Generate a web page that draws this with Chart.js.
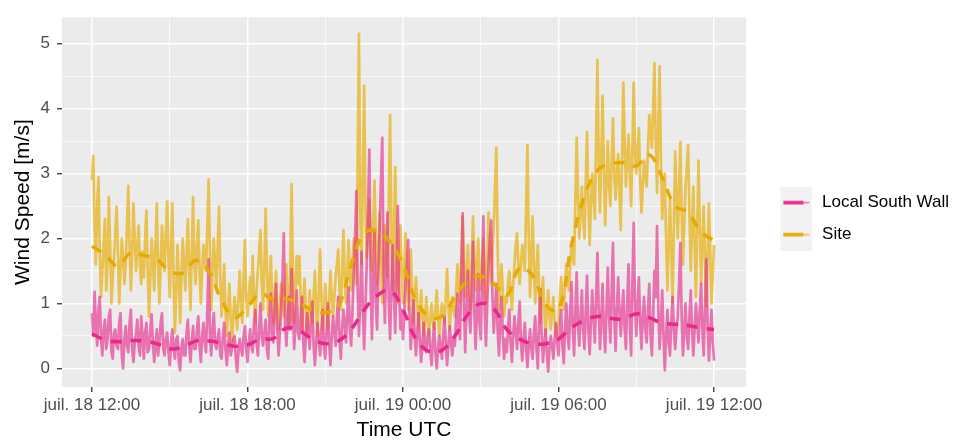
<!DOCTYPE html>
<html>
<head>
<meta charset="utf-8">
<script src="https://cdn.jsdelivr.net/npm/chart.js@4/dist/chart.umd.min.js"></script>
<style>
html,body{margin:0;padding:0;background:#ffffff;}
#wrap{width:965px;height:441px;}
</style>
</head>
<body>
<div id="wrap"><canvas id="c" width="965" height="441"></canvas></div>
<script>
// ---- time axis (hours after juil. 18 12:00 UTC) ----
const STEP_HOURS = 0.05;         // raw series: one reading every 3 minutes
const SMOOTH_STEP_HOURS = 0.5;   // smoothed series: one value every 30 minutes

const seriesNames = ['Local South Wall', 'Site'];

// raw wind speed, Local South Wall [m/s] (one line per hour)
const localSouthWall = [
  0.85,0.5,1.18,0.7,0.35,0.9,1.1,0.45,0.2,0.6, 0.75,0.3,0.45,0.8,0.9,0.25,0.15,0.55,0.6,0.35,
  0.3,0.7,0.85,0.2,0.0,0.45,0.65,0.35,0.25,0.7, 0.9,0.3,0.1,0.4,0.55,0.75,0.35,0.2,0.8,0.5,
  0.15,0.55,0.7,0.25,0.3,0.6,0.83,0.4,0.1,0.35, 0.6,0.2,0.4,0.7,0.85,0.3,0.2,0.45,0.55,0.25,
  0.05,0.4,0.6,0.3,0.15,0.45,0.5,0.1,-0.03,0.3, 0.45,0.2,0.2,0.55,0.75,0.35,0.1,0.4,0.65,0.3,
  0.3,0.6,0.8,0.35,0.1,0.5,0.7,0.4,0.25,0.9, 1.68,0.5,0.2,0.6,0.85,0.4,0.3,0.45,0.6,0.2,
  0.15,0.5,0.7,0.3,0.05,0.35,0.55,0.2,0.3,0.45, 0.5,0.15,-0.05,0.25,0.45,0.3,0.2,0.5,0.65,0.3,
  0.1,0.4,0.6,0.35,0.25,0.7,0.9,0.4,0.2,0.6, 1.0,0.5,0.35,0.55,0.75,0.3,0.15,0.8,1.15,0.5,
  0.4,0.9,1.3,0.6,0.2,0.55,0.95,1.4,2.08,0.7, 0.35,0.8,1.1,0.6,1.53,0.9,0.3,0.7,1.2,0.55,
  0.45,0.8,1.1,0.4,0.1,0.5,0.85,0.6,0.3,0.75, 1.03,0.35,0.05,0.4,0.7,0.45,0.2,0.6,0.9,0.3,
  0.15,0.6,1.0,0.4,0.05,0.5,0.8,0.55,0.35,0.8, 1.1,0.45,0.15,0.6,0.9,0.7,0.4,0.85,1.25,0.6,
  0.35,0.9,1.45,2.0,2.73,1.2,0.5,1.1,1.8,0.9, 0.3,0.95,1.6,2.4,3.37,1.3,0.45,1.4,2.1,1.0,
  0.6,1.5,2.2,2.9,3.55,1.5,0.7,1.6,2.4,1.0, 0.45,1.2,1.9,1.1,0.55,1.6,2.5,1.2,0.6,0.9,
  0.45,0.9,1.3,1.6,1.98,0.8,0.3,0.7,1.05,0.5, 0.2,0.55,0.85,0.4,0.1,0.4,0.7,0.35,0.25,0.5,
  0.6,0.3,0.05,0.4,0.7,0.25,0.0,0.3,0.5,0.35, 0.15,0.5,0.8,0.4,0.05,0.35,0.65,0.4,0.2,0.45,
  0.35,0.8,1.15,0.6,0.45,1.4,2.39,1.0,0.25,0.9, 1.5,0.8,0.55,1.2,1.95,0.9,0.3,0.85,1.45,0.7,
  0.45,1.4,2.34,0.9,0.35,1.0,1.6,2.0,2.28,1.1, 0.55,0.9,1.3,0.6,0.2,0.7,1.1,0.5,0.15,0.45,
  0.25,0.6,0.9,0.4,0.1,0.5,0.8,0.55,0.3,0.7, 1.03,0.4,0.12,0.45,0.7,0.3,0.02,0.35,0.6,0.3,
  0.15,0.55,0.8,0.3,0.0,0.7,1.22,0.5,0.1,0.4, 0.6,0.25,-0.05,0.3,0.5,0.35,0.15,0.45,0.7,0.4,
  0.2,0.6,0.9,0.35,0.08,0.6,1.0,0.55,0.3,0.9, 1.33,0.6,0.2,0.9,1.48,0.7,0.35,0.8,1.2,0.6,
  0.3,0.9,1.43,0.6,0.22,0.7,1.2,0.8,0.4,1.1, 1.78,0.9,0.3,0.8,1.3,0.6,0.25,0.9,1.55,0.8,
  0.4,1.2,1.93,0.8,0.27,0.9,1.4,0.9,0.5,0.9, 1.2,0.6,0.3,1.0,1.6,0.7,0.2,1.3,2.24,1.0,
  0.5,1.0,1.4,0.7,0.3,0.8,1.1,0.6,0.4,0.9, 1.3,0.5,0.2,0.8,1.5,1.1,2.19,0.9,0.3,0.7,
  1.2,0.5,-0.03,0.5,0.9,0.4,0.2,0.7,1.1,0.6, 0.3,0.6,0.8,1.3,1.93,0.8,0.2,0.6,1.0,0.5,
  0.3,0.8,1.2,0.6,0.2,0.6,1.0,0.7,0.4,0.9, 1.3,0.6,0.2,0.9,1.68,0.7,0.12,0.5,0.9,0.4,
  0.12
];

// raw wind speed, Site [m/s] (one line per hour)
const site = [
  2.9,3.27,2.2,1.6,2.5,2.94,1.8,1.1,1.5,1.9, 2.3,1.2,1.6,2.64,1.9,1.0,1.4,1.7,2.1,2.49,
  1.8,1.0,1.5,2.0,1.7,1.3,1.6,2.2,2.81,1.9, 1.2,1.8,2.54,2.0,1.5,1.9,2.2,1.6,1.3,1.8,
  1.4,2.0,2.43,1.5,0.8,1.4,2.0,1.7,1.2,1.9, 2.54,1.6,1.0,1.6,2.2,1.8,1.5,2.1,2.57,1.7,
  1.1,1.9,2.54,1.3,0.55,1.2,1.9,1.4,0.7,1.4, 2.0,1.6,1.2,1.8,2.3,1.5,0.9,1.8,2.64,1.6,
  1.3,1.9,2.28,1.5,1.0,1.5,1.9,1.7,1.5,2.2, 2.91,1.8,0.9,1.5,2.0,1.6,1.2,1.9,2.49,1.4,
  0.8,1.2,1.6,0.9,0.5,0.9,1.3,0.8,0.4,0.8, 1.1,0.9,0.6,1.1,1.5,1.0,0.7,1.4,1.98,1.1,
  0.8,1.1,1.4,1.0,1.73,1.1,0.7,1.2,1.5,1.8, 2.13,1.3,0.9,1.6,2.46,1.5,0.8,1.3,1.73,1.1,
  0.7,1.1,1.5,0.9,0.6,1.0,1.3,1.0,0.8,1.2, 1.6,1.0,0.6,1.6,2.84,1.5,0.7,1.2,1.73,1.3,
  1.73,1.1,0.6,1.0,1.38,0.9,0.5,0.8,1.2,0.9, 0.7,1.1,1.5,0.9,0.5,1.2,1.83,1.1,0.6,0.9,
  1.3,0.9,0.6,1.0,1.5,1.1,0.8,1.1,1.4,1.6, 1.83,1.2,0.9,1.5,2.13,1.4,1.0,1.5,1.98,1.4,
  1.2,1.6,2.0,1.6,1.3,3.2,5.15,2.4,1.6,2.9, 4.35,2.5,1.7,2.2,2.6,2.0,1.5,2.2,2.89,2.0,
  1.3,1.9,2.4,1.6,1.0,1.7,2.2,1.8,1.4,2.6, 3.9,2.2,1.2,2.1,3.1,1.9,1.0,1.6,2.2,1.5,
  1.0,1.6,2.08,1.4,0.9,1.4,1.83,1.2,0.7,1.1, 1.4,1.0,0.6,0.9,1.2,0.8,0.5,0.8,1.1,0.7,
  0.5,0.8,1.0,0.7,0.6,0.9,1.2,0.8,0.5,0.8, 1.0,0.9,0.7,1.1,1.53,1.0,0.6,0.9,1.1,0.9,
  0.8,1.2,1.6,1.3,1.0,1.7,2.34,1.6,1.1,1.5, 1.9,1.4,0.9,1.6,2.34,1.7,1.2,1.6,2.0,1.5,
  1.2,1.6,2.0,1.4,1.0,1.7,2.4,1.8,1.3,1.8, 2.2,2.8,3.4,1.9,0.9,1.3,1.6,1.2,0.8,1.1,
  1.0,1.3,1.5,1.2,0.9,1.3,1.6,1.9,2.08,1.6, 1.3,1.6,1.9,1.7,1.5,2.5,3.44,2.0,1.1,1.7,
  2.34,1.6,1.0,1.5,1.9,1.2,0.7,1.1,1.4,0.9, 0.5,0.9,1.2,0.8,0.6,0.9,1.1,0.7,0.5,0.6,
  0.7,1.1,1.4,1.1,0.9,1.3,1.6,1.4,1.2,1.6, 1.93,1.7,1.6,2.6,3.55,2.7,2.0,2.4,2.8,2.3,
  2.0,2.9,3.64,2.6,1.9,2.5,3.0,2.7,2.3,3.5, 4.75,3.2,2.4,3.3,4.2,3.0,2.2,2.9,3.5,2.8,
  2.5,3.2,3.85,3.0,2.6,3.0,3.3,2.7,2.13,3.2, 4.4,3.5,2.8,3.2,3.6,3.0,2.5,3.4,4.4,3.3,
  3.0,3.4,3.7,2.9,2.4,2.8,3.2,3.0,2.8,3.4, 3.9,3.6,3.4,4.0,4.7,3.5,2.7,3.7,4.65,3.2,
  2.3,2.7,3.0,2.0,1.2,1.9,2.6,1.8,1.0,2.2, 3.34,2.6,2.0,2.8,3.49,2.4,1.6,2.2,2.8,3.1,
  3.44,2.4,1.5,2.2,2.8,1.9,1.1,2.1,3.2,2.2, 1.3,1.9,2.5,1.7,0.95,1.7,2.54,1.8,1.0,1.4,
  1.9
];

// smoothed (dashed) series, every 30 minutes
const localSouthWallSmooth = [
  0.53,0.44,0.41,0.43,0.42,0.38,0.30,0.33,0.42,0.42,
  0.39,0.34,0.36,0.45,0.46,0.62,0.58,0.45,0.38,0.42,
  0.60,0.90,1.12,1.20,0.90,0.45,0.26,0.28,0.50,0.83,
  1.00,0.92,0.60,0.45,0.38,0.38,0.45,0.63,0.74,0.80,
  0.77,0.76,0.84,0.78,0.70,0.68,0.66,0.62,0.60
];
const siteSmooth = [
  1.88,1.75,1.58,1.78,1.74,1.68,1.50,1.47,1.66,1.50,
  1.05,0.78,0.95,1.15,1.06,1.07,1.00,0.90,0.86,0.95,
  1.60,2.08,2.12,1.95,1.60,1.05,0.80,0.80,1.10,1.35,
  1.42,1.30,1.12,1.55,1.43,0.98,0.90,1.90,2.65,3.05,
  3.15,3.17,3.12,3.29,2.94,2.50,2.40,2.10,1.97
];

// ---- axes ----
const xTickHours = [0,3,6,9,12,15,18,21,24];
const xTickLabels = {0:'juil. 18 12:00', 6:'juil. 18 18:00', 12:'juil. 19 00:00', 18:'juil. 19 06:00', 24:'juil. 19 12:00'};
const yTickValues = [0,0.5,1,1.5,2,2.5,3,3.5,4,4.5,5];
const yMajorTicks = [0,1,2,3,4,5];
const xTitle = 'Time UTC';
const yTitle = 'Wind Speed [m/s]';

// ---- styles ----
const PINK = '#E7298A', GOLD = '#E6AB02';
const PINK_A = 'rgba(231,41,138,0.62)', GOLD_A = 'rgba(230,171,2,0.66)';
const FONT = "'Liberation Sans', Arial, sans-serif";

const toPoints = (arr, step) => arr.map((v, i) => ({x: i * step, y: v}));

function makeKey(rawColor, solidColor) {
  const c = document.createElement('canvas');
  c.width = 50; c.height = 32;
  const g = c.getContext('2d');
  g.fillStyle = '#F2F2F2';
  g.fillRect(18, 0, 32, 32);
  g.strokeStyle = rawColor; g.lineWidth = 1.6;
  g.beginPath(); g.moveTo(21, 16); g.lineTo(47, 16); g.stroke();
  g.strokeStyle = solidColor; g.lineWidth = 3.5;
  g.beginPath(); g.moveTo(21, 16); g.lineTo(41, 16); g.stroke();
  return c;
}
const keys = [makeKey(PINK_A, PINK), makeKey(GOLD_A, GOLD)];

const panelBg = {
  id: 'panelBg',
  beforeDraw(chart) {
    const {ctx, chartArea: a} = chart;
    ctx.save();
    ctx.fillStyle = '#EBEBEB';
    ctx.fillRect(a.left, a.top, a.right - a.left, a.bottom - a.top);
    ctx.restore();
  }
};

new Chart(document.getElementById('c'), {
  type: 'line',
  data: {
    datasets: [
      {label: seriesNames[0], data: toPoints(localSouthWall, STEP_HOURS), borderColor: PINK_A, borderWidth: 2.7, pointRadius: 0, tension: 0, borderJoinStyle: 'round', order: 2},
      {label: seriesNames[1], data: toPoints(site, STEP_HOURS), borderColor: GOLD_A, borderWidth: 2.7, pointRadius: 0, tension: 0, borderJoinStyle: 'round', order: 3},
      {label: seriesNames[0] + ' (smoothed)', data: toPoints(localSouthWallSmooth, SMOOTH_STEP_HOURS), borderColor: PINK, borderWidth: 3.5, borderDash: [11, 9], pointRadius: 0, tension: 0.4, order: 0},
      {label: seriesNames[1] + ' (smoothed)', data: toPoints(siteSmooth, SMOOTH_STEP_HOURS), borderColor: GOLD, borderWidth: 3.5, borderDash: [11, 9], pointRadius: 0, tension: 0.4, order: 1}
    ]
  },
  options: {
    responsive: false,
    animation: false,
    devicePixelRatio: 1,
    layout: {padding: {top: 10, right: 6, bottom: 0, left: 0}},
    plugins: {
      tooltip: {enabled: false},
      legend: {
        position: 'right',
        fullSize: false,
        title: {display: true, text: ' ', padding: 6.3, font: {family: FONT, size: 17}},
        labels: {
          usePointStyle: true,
          pointStyleWidth: 52.5,
          padding: 15,
          color: '#000000',
          font: {family: FONT, size: 17},
          generateLabels: () => seriesNames.map((name, i) => ({
            text: name, pointStyle: keys[i], fillStyle: 'rgba(0,0,0,0)', strokeStyle: 'rgba(0,0,0,0)',
            lineWidth: 0, hidden: false, datasetIndex: i, fontColor: '#000000'
          }))
        }
      }
    },
    scales: {
      x: {
        type: 'linear',
        min: -1.157, max: 25.235,
        afterBuildTicks: ax => { ax.ticks = xTickHours.map(v => ({value: v})); },
        afterFit: ax => { ax.height = 54; },
        border: {display: false},
        grid: {
          color: '#FFFFFF',
          lineWidth: c => (c.tick && c.tick.value % 6 === 0) ? 1.5 : 0.7,
          drawTicks: true, tickLength: 5, tickWidth: 1.3,
          tickColor: c => (c.tick && c.tick.value % 6 === 0) ? '#333333' : 'rgba(0,0,0,0)'
        },
        ticks: {
          autoSkip: false, maxRotation: 0, minRotation: 0, padding: 3,
          color: '#4D4D4D', font: {family: FONT, size: 17},
          callback: v => (xTickLabels[v] !== undefined ? xTickLabels[v] : '')
        },
        title: {display: true, text: xTitle, color: '#000000', font: {family: FONT, size: 21}, padding: {top: 0, bottom: -2}}
      },
      y: {
        type: 'linear',
        min: -0.287, max: 5.408,
        afterBuildTicks: ax => { ax.ticks = yTickValues.map(v => ({value: v})); },
        afterFit: ax => { ax.width = 62; },
        border: {display: false},
        grid: {
          color: '#FFFFFF',
          lineWidth: c => (c.tick && yMajorTicks.includes(c.tick.value)) ? 1.5 : 0.7,
          drawTicks: true, tickLength: 5, tickWidth: 1.3,
          tickColor: c => (c.tick && yMajorTicks.includes(c.tick.value)) ? '#333333' : 'rgba(0,0,0,0)'
        },
        ticks: {
          autoSkip: false, padding: 7,
          color: '#4D4D4D', font: {family: FONT, size: 17},
          callback: v => (yMajorTicks.includes(v) ? String(v) : '')
        },
        title: {display: true, text: yTitle, color: '#000000', font: {family: FONT, size: 21}, padding: {top: 10.4, bottom: 0}}
      }
    }
  },
  plugins: [panelBg]
});
</script>
</body>
</html>
